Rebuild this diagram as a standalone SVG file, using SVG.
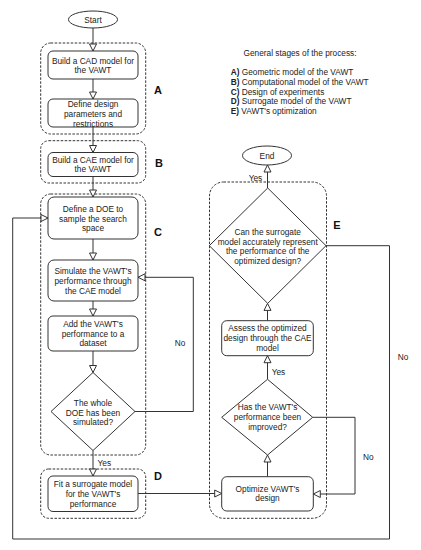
<svg xmlns="http://www.w3.org/2000/svg" width="421" height="550" viewBox="0 0 421 550">
<defs>
<marker id="arr" markerUnits="userSpaceOnUse" markerWidth="10" markerHeight="10" viewBox="0 0 10 10" refX="8" refY="5" orient="auto">
<path d="M1,1.5 L8,5 L1,8.5 Z" fill="#fff" stroke="#333" stroke-width="1"/>
</marker>
</defs>
<style>
text{font-family:"Liberation Sans",Arial,sans-serif;font-size:8.3px;fill:#222}
.c{text-anchor:middle}
.box{fill:#fff;stroke:#333;stroke-width:1}
.grp{fill:none;stroke:#333;stroke-width:1;stroke-dasharray:2.5 1.5}
.ln{fill:none;stroke:#333;stroke-width:1}
.lab{font-size:11px;font-weight:bold;fill:#111}
.b{font-weight:bold}
</style>
<rect width="421" height="550" fill="#fff"/>

<g id="groups">
<rect class="grp" x="40.7" y="43" width="105" height="91" rx="10"/>
<rect class="grp" x="40.7" y="140.7" width="105" height="42.3" rx="8"/>
<rect class="grp" x="40.7" y="194" width="105" height="261" rx="10"/>
<rect class="grp" x="40.7" y="469" width="105" height="49.3" rx="8"/>
<rect class="grp" x="209.5" y="182" width="117" height="336.3" rx="14"/>
</g>

<g id="connectors">
<path class="ln" d="M93,28 V51" marker-end="url(#arr)"/>
<path class="ln" d="M93,79 V99" marker-end="url(#arr)"/>
<path class="ln" d="M93,127 V152.5" marker-end="url(#arr)"/>
<path class="ln" d="M93,176.5 V197" marker-end="url(#arr)"/>
<path class="ln" d="M93,239 V260" marker-end="url(#arr)"/>
<path class="ln" d="M93,301 V316" marker-end="url(#arr)"/>
<path class="ln" d="M93,351 V372.5" marker-end="url(#arr)"/>
<path class="ln" d="M135,411.5 H193.3 V277.3 H138" marker-end="url(#arr)"/>
<path class="ln" d="M93,450.5 V476" marker-end="url(#arr)"/>
<path class="ln" d="M138,493.5 H221.7" marker-end="url(#arr)"/>
<path class="ln" d="M267.5,476.7 V455" marker-end="url(#arr)"/>
<path class="ln" d="M312.7,417.3 H355 V494 H313.3" marker-end="url(#arr)"/>
<path class="ln" d="M267.5,379.3 V355.7" marker-end="url(#arr)"/>
<path class="ln" d="M267.5,320.7 V303.4" marker-end="url(#arr)"/>
<path class="ln" d="M267.5,188 V165" marker-end="url(#arr)"/>
<path class="ln" d="M326,245.7 H389.5 V539 H12.7 V218 H48" marker-end="url(#arr)"/>
<text x="180" y="345.7" class="c">No</text>
<text x="97.5" y="466.3">Yes</text>
<text x="271.7" y="374.7">Yes</text>
<text x="368.3" y="459.7" class="c">No</text>
<text x="255.5" y="181.3" class="c">Yes</text>
<text x="403" y="360" class="c">No</text>
</g>

<g id="start">
<ellipse class="box" cx="93" cy="19.5" rx="24.5" ry="8.5"/>
<text x="93" y="22.5" class="c">Start</text>
</g>
<g id="cad">
<rect class="box" x="48" y="51" width="90" height="28" rx="5"/>
<text x="93" y="64" class="c">Build a CAD model for</text>
<text x="93" y="73" class="c">the VAWT</text>
</g>
<g id="params">
<rect class="box" x="48" y="99" width="90" height="28" rx="5"/>
<text x="93" y="107" class="c">Define design</text>
<text x="93" y="117" class="c">parameters and</text>
<text x="93" y="127" class="c">restrictions</text>
</g>
<g id="cae">
<rect class="box" x="48" y="152.5" width="90" height="24" rx="5"/>
<text x="93" y="163" class="c">Build a CAE model for</text>
<text x="93" y="172" class="c">the VAWT</text>
</g>
<g id="doe">
<rect class="box" x="48" y="197" width="90" height="42" rx="6"/>
<text x="93" y="212" class="c">Define a DOE to</text>
<text x="93" y="221.5" class="c">sample the search</text>
<text x="93" y="231" class="c">space</text>
</g>
<g id="simulate">
<rect class="box" x="48" y="260" width="90" height="41" rx="6"/>
<text x="93" y="273.7" class="c">Simulate the VAWT's</text>
<text x="93" y="283.7" class="c">performance through</text>
<text x="93" y="293.7" class="c">the CAE model</text>
</g>
<g id="add">
<rect class="box" x="48" y="316" width="90" height="35" rx="5"/>
<text x="93" y="327" class="c">Add the VAWT's</text>
<text x="93" y="337" class="c">performance to a</text>
<text x="93" y="346" class="c">dataset</text>
</g>
<g id="whole">
<path class="box" d="M93,372.5 L135,411.5 L93,450.5 L51,411.5 Z"/>
<text x="93" y="406.3" class="c">The whole</text>
<text x="93" y="415.7" class="c">DOE has been</text>
<text x="93" y="425.3" class="c">simulated?</text>
</g>
<g id="fit">
<rect class="box" x="48" y="476" width="90" height="35.5" rx="5"/>
<text x="93" y="487" class="c">Fit a surrogate model</text>
<text x="93" y="497" class="c">for the VAWT's</text>
<text x="93" y="507" class="c">performance</text>
</g>
<g id="optimize">
<rect class="box" x="221.7" y="476.7" width="91.6" height="34.3" rx="5"/>
<text x="267.5" y="492.3" class="c">Optimize VAWT's</text>
<text x="267.5" y="501.3" class="c">design</text>
</g>
<g id="improved">
<path class="box" d="M267.5,379.3 L312.7,417.3 L267.5,455 L221.7,417.3 Z"/>
<text x="267.5" y="410.3" class="c">Has the VAWT's</text>
<text x="267.5" y="420.3" class="c">performance been</text>
<text x="267.5" y="429.7" class="c">improved?</text>
</g>
<g id="assess">
<rect class="box" x="221.7" y="320.7" width="91.6" height="35" rx="5"/>
<text x="267.5" y="331.3" class="c">Assess the optimized</text>
<text x="267.5" y="340.7" class="c">design through the CAE</text>
<text x="267.5" y="351.3" class="c">model</text>
</g>
<g id="accurate">
<path class="box" d="M267.7,188 L326,245.7 L267.7,303.4 L209.3,245.7 Z"/>
<text x="267.7" y="234.7" class="c">Can the surrogate</text>
<text x="267.7" y="244.7" class="c">model accurately represent</text>
<text x="267.7" y="254" class="c">the performance of the</text>
<text x="267.7" y="263.7" class="c">optimized design?</text>
</g>
<g id="end">
<ellipse class="box" cx="267" cy="155.5" rx="24.5" ry="9.5"/>
<text x="267" y="158.5" class="c">End</text>
</g>

<g id="stage-labels">
<text x="158" y="94" class="lab c">A</text>
<text x="159" y="167" class="lab c">B</text>
<text x="158" y="236" class="lab c">C</text>
<text x="158" y="480" class="lab c">D</text>
<text x="337" y="229" class="lab c">E</text>
</g>

<g id="legend">
<text x="300" y="56.3" class="c">General stages of the process:</text>
<text x="230.7" y="75.2"><tspan class="b">A)</tspan> Geometric model of the VAWT</text>
<text x="230.7" y="84.9"><tspan class="b">B)</tspan> Computational model of the VAWT</text>
<text x="230.7" y="94.6"><tspan class="b">C)</tspan> Design of experiments</text>
<text x="230.7" y="104.3"><tspan class="b">D)</tspan> Surrogate model of the VAWT</text>
<text x="230.7" y="114"><tspan class="b">E)</tspan> VAWT's optimization</text>
</g>
</svg>
